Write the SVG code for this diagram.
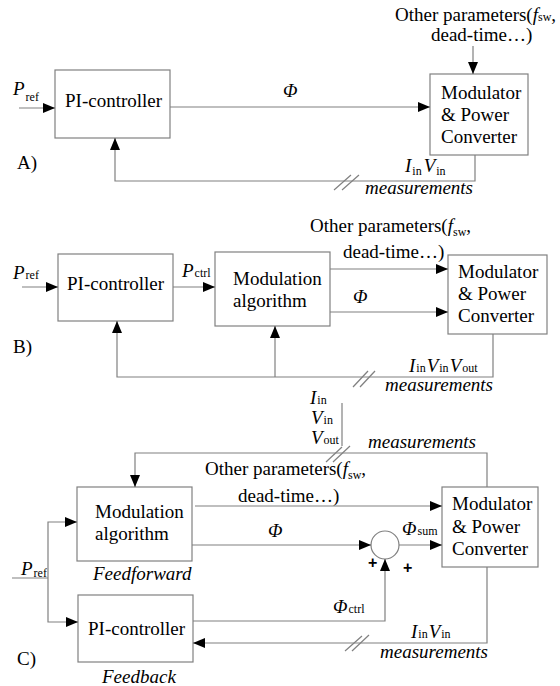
<svg xmlns="http://www.w3.org/2000/svg" width="560" height="686" viewBox="0 0 560 686">
<style>
text{font-family:"Liberation Serif","Times New Roman","DejaVu Serif",serif;font-size:19px;fill:#000}
.i{font-style:italic}
.s{font-size:12px;font-style:normal}
.box{fill:#fff;stroke:#808080;stroke-width:1.2}
.ln{fill:none;stroke:#808080;stroke-width:1.2}
.ar{fill:none;stroke:#808080;stroke-width:1.2;marker-end:url(#ah)}
.pl{font-family:"Liberation Sans",Arial,sans-serif;font-weight:bold;font-size:16px}
</style>
<defs>
<marker id="ah" markerUnits="userSpaceOnUse" markerWidth="12" markerHeight="10" refX="12" refY="5" orient="auto">
<path d="M0,0 L12,5 L0,10 z" fill="#000"/>
</marker>
</defs>

<!-- ===== A ===== -->
<g id="A-pi"><rect class="box" x="55" y="70" width="115" height="68"/><text x="65" y="107">PI-controller</text></g>
<g id="A-mod"><rect class="box" x="430" y="74" width="98" height="81"/>
<text x="441" y="99">Modulator</text><text x="441" y="121">&amp; Power</text><text x="441" y="143">Converter</text></g>
<g id="A-labels">
<text x="13" y="95" class="i">P<tspan class="s" dx="1" dy="6">ref</tspan></text>
<text x="283" y="97" class="i">Φ</text>
<text x="395" y="21">Other parameters(<tspan class="i">f</tspan><tspan class="s">sw</tspan>,</text>
<text x="431" y="41">dead-time…)</text>
<text x="405" y="172" class="i">I<tspan class="s" dx="1" dy="3">in</tspan><tspan dx="2" dy="-3">V</tspan><tspan class="s" dx="1" dy="3">in</tspan></text>
<text x="365" y="194" class="i">measurements</text>
<text x="17" y="169">A)</text>
</g>
<g id="A-connectors">
<line class="ar" x1="19" y1="108" x2="55" y2="108"/>
<line class="ar" x1="170" y1="107" x2="430" y2="107"/>
<line class="ar" x1="473" y1="46" x2="473" y2="74"/>
<polyline class="ar" points="475,155 475,181 115,181 115,138"/>
<line class="ln" x1="334" y1="190" x2="351" y2="175"/>
<line class="ln" x1="342" y1="190" x2="359" y2="175"/>
</g>

<!-- ===== B ===== -->
<g id="B-pi"><rect class="box" x="58" y="254" width="115" height="67"/><text x="67" y="290">PI-controller</text></g>
<g id="B-alg"><rect class="box" x="215" y="252" width="115" height="74"/>
<text x="233" y="285">Modulation</text><text x="233" y="307">algorithm</text></g>
<g id="B-mod"><rect class="box" x="448" y="255" width="99" height="79"/>
<text x="458" y="278">Modulator</text><text x="458" y="300">&amp; Power</text><text x="458" y="322">Converter</text></g>
<g id="B-labels">
<text x="13" y="279" class="i">P<tspan class="s" dx="1">ref</tspan></text>
<text x="182" y="277" class="i">P<tspan class="s" dx="1">ctrl</tspan></text>
<text x="310" y="232">Other parameters(<tspan class="i">f</tspan><tspan class="s" dy="4">sw</tspan><tspan dy="-4">,</tspan></text>
<text x="343" y="258">dead-time…)</text>
<text x="353" y="303" class="i">Φ</text>
<text x="409" y="372" class="i">I<tspan class="s" dx="1">in</tspan><tspan dx="1">V</tspan><tspan class="s" dx="1">in</tspan><tspan dx="1">V</tspan><tspan class="s" dx="1">out</tspan></text>
<text x="385" y="391" class="i">measurements</text>
<text x="13" y="353">B)</text>
</g>
<g id="B-connectors">
<line class="ar" x1="22" y1="287" x2="58" y2="287"/>
<line class="ar" x1="173" y1="287" x2="215" y2="287"/>
<line class="ar" x1="330" y1="269" x2="448" y2="269"/>
<line class="ar" x1="330" y1="312" x2="448" y2="312"/>
<polyline class="ar" points="493,334 493,377 117,377 117,321"/>
<line class="ar" x1="275" y1="377" x2="275" y2="326"/>
<line class="ln" x1="353" y1="387" x2="368" y2="371"/>
<line class="ln" x1="360" y1="387" x2="375" y2="371"/>
</g>

<!-- ===== C ===== -->
<g id="C-alg"><rect class="box" x="77" y="487" width="115" height="74"/>
<text x="95" y="518">Modulation</text><text x="95" y="540">algorithm</text></g>
<g id="C-pi"><rect class="box" x="78" y="595" width="115" height="67"/><text x="88" y="635">PI-controller</text></g>
<g id="C-mod"><rect class="box" x="442" y="487" width="96" height="80"/>
<text x="452" y="510">Modulator</text><text x="452" y="533">&amp; Power</text><text x="452" y="555">Converter</text></g>
<g id="C-sum"><circle cx="385" cy="545" r="14" fill="#fff" stroke="#808080" stroke-width="1.2"/></g>
<g id="C-labels">
<text x="310" y="404" class="i">I<tspan class="s" dx="1">in</tspan></text>
<text x="311" y="424" class="i">V<tspan class="s" dx="1">in</tspan></text>
<text x="311" y="444" class="i">V<tspan class="s" dx="1">out</tspan></text>
<text x="368" y="448" class="i">measurements</text>
<text x="205" y="475">Other parameters(<tspan class="i">f</tspan><tspan class="s" dy="4">sw</tspan><tspan dy="-4">,</tspan></text>
<text x="238" y="502">dead-time…)</text>
<text x="268" y="537" class="i">Φ</text>
<text x="402" y="535" class="i">Φ<tspan class="s" dx="1">sum</tspan></text>
<text x="333" y="613" class="i">Φ<tspan class="s" dx="1">ctrl</tspan></text>
<text x="411" y="638" class="i">I<tspan class="s" dx="1">in</tspan><tspan dx="1">V</tspan><tspan class="s" dx="1">in</tspan></text>
<text x="380" y="658" class="i">measurements</text>
<text x="93" y="580" class="i">Feedforward</text>
<text x="102" y="683" class="i">Feedback</text>
<text x="21" y="575" class="i">P<tspan class="s" dx="1" dy="2">ref</tspan></text>
<text x="17" y="665">C)</text>
<text class="pl" x="368" y="568">+</text>
<text class="pl" x="403" y="573">+</text>
</g>
<g id="C-connectors">
<line class="ln" x1="342" y1="403" x2="342" y2="446"/>
<polyline class="ar" points="487,487 487,453 135,453 135,487"/>
<line class="ln" x1="326" y1="462" x2="342" y2="447"/>
<line class="ln" x1="333" y1="462" x2="350" y2="446"/>
<line class="ar" x1="195" y1="506" x2="442" y2="506"/>
<line class="ar" x1="192" y1="545" x2="371" y2="545"/>
<line class="ar" x1="399" y1="545" x2="442" y2="545"/>
<polyline class="ar" points="193,621 385,621 385,559"/>
<polyline class="ar" points="487,567 487,643 193,643"/>
<line class="ln" x1="345" y1="651" x2="362" y2="636"/>
<line class="ln" x1="352" y1="651" x2="369" y2="635"/>
<line class="ln" x1="12" y1="578" x2="48" y2="578"/>
<polyline class="ar" points="48,578 48,522 77,522"/>
<polyline class="ar" points="48,578 48,622 78,622"/>
</g>
</svg>
